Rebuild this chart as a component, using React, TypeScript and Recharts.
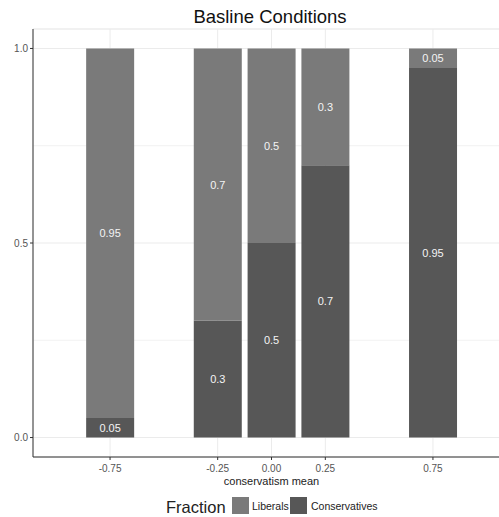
import React from 'react';
import { BarChart, Bar, XAxis, YAxis, CartesianGrid, LabelList } from 'recharts';

const positions = [-0.75, -0.25, 0, 0.25, 0.75];
const conservatives = [0.05, 0.3, 0.5, 0.7, 0.95];
const liberals = [0.95, 0.7, 0.5, 0.3, 0.05];
const xTicks = [-0.75, -0.25, 0, 0.25, 0.75];
const yMajorTicks = [0, 0.5, 1];
const yMinorTicks = [0.25, 0.75];
const seriesNames = ['Liberals', 'Conservatives'];
const titleText = 'Basline Conditions';
const xTitle = 'conservatism mean';
const legendTitle = 'Fraction';

const data = positions.map((x, i) => ({
  x,
  Conservatives: conservatives[i],
  Liberals: liberals[i],
}));

const LIB = '#7a7a7a';
const CON = '#575757';
const FONT = '"Liberation Sans", Arial, Helvetica, sans-serif';

export default function App() {
  return (
    <div
      style={{
        position: 'fixed',
        top: 0,
        left: 0,
        width: 499,
        height: 517,
        overflow: 'hidden',
        background: '#fff',
        fontFamily: FONT,
      }}
    >
      <BarChart
        width={520}
        height={517}
        data={data}
        margin={{ top: 29, right: 10, bottom: 0, left: 0 }}
        style={{ fontFamily: FONT }}
      >
        <CartesianGrid stroke="#ebebeb" strokeWidth={1} horizontal={true} vertical={true} />
        <CartesianGrid yAxisId="minor" stroke="#ebebeb" strokeWidth={0.7} horizontal={true} vertical={false} />
        <XAxis
          dataKey="x"
          type="number"
          domain={[-1.108, 1.108]}
          allowDataOverflow
          ticks={xTicks}
          tickFormatter={(v: number) => v.toFixed(2)}
          height={60}
          tickSize={3}
          tickMargin={5}
          tick={{ fill: '#555', fontSize: 10 }}
          axisLine={{ stroke: '#333', strokeWidth: 1 }}
          tickLine={{ stroke: '#333' }}
          interval={0}
        />
        <XAxis
          xAxisId="top"
          dataKey="x"
          type="number"
          orientation="top"
          domain={[-1.108, 1.108]}
          allowDataOverflow
          height={0}
          tick={false}
          tickLine={false}
          axisLine={{ stroke: '#333', strokeWidth: 1 }}
        />
        <YAxis
          type="number"
          domain={[-0.05, 1.05]}
          allowDataOverflow
          ticks={yMajorTicks}
          tickFormatter={(v: number) => v.toFixed(1)}
          width={33}
          tickSize={3}
          tickMargin={2}
          tick={{ fill: '#555', fontSize: 10 }}
          axisLine={{ stroke: '#333', strokeWidth: 1 }}
          tickLine={{ stroke: '#333' }}
          interval={0}
        />
        <YAxis
          yAxisId="minor"
          type="number"
          domain={[-0.05, 1.05]}
          allowDataOverflow
          ticks={yMinorTicks}
          hide
        />
        <Bar dataKey="Conservatives" stackId="a" fill={CON} barSize={48} isAnimationActive={false}>
          <LabelList dataKey="Conservatives" position="center" fill="#f4f4f4" fontSize={11} />
        </Bar>
        <Bar dataKey="Liberals" stackId="a" fill={LIB} barSize={48} isAnimationActive={false}>
          <LabelList dataKey="Liberals" position="center" fill="#f4f4f4" fontSize={11} />
        </Bar>
      </BarChart>
      <svg
        width={499}
        height={517}
        style={{ position: 'absolute', top: 0, left: 0, pointerEvents: 'none', fontFamily: FONT }}
      >
        <text x={270} y={23} textAnchor="middle" fontSize={18.5} fill="#111">
          {titleText}
        </text>
        <text x={271.5} y={485} textAnchor="middle" fontSize={11} fill="#222">
          {xTitle}
        </text>
        <text x={166} y={513} fontSize={16.5} fill="#222">
          {legendTitle}
        </text>
        <rect x={232} y={497} width={17} height={17} fill={LIB} />
        <text x={252} y={506} dominantBaseline="central" fontSize={10.5} fill="#222">
          {seriesNames[0]}
        </text>
        <rect x={290} y={497} width={17} height={17} fill={CON} />
        <text x={311} y={506} dominantBaseline="central" fontSize={10.5} fill="#222">
          {seriesNames[1]}
        </text>
      </svg>
    </div>
  );
}
